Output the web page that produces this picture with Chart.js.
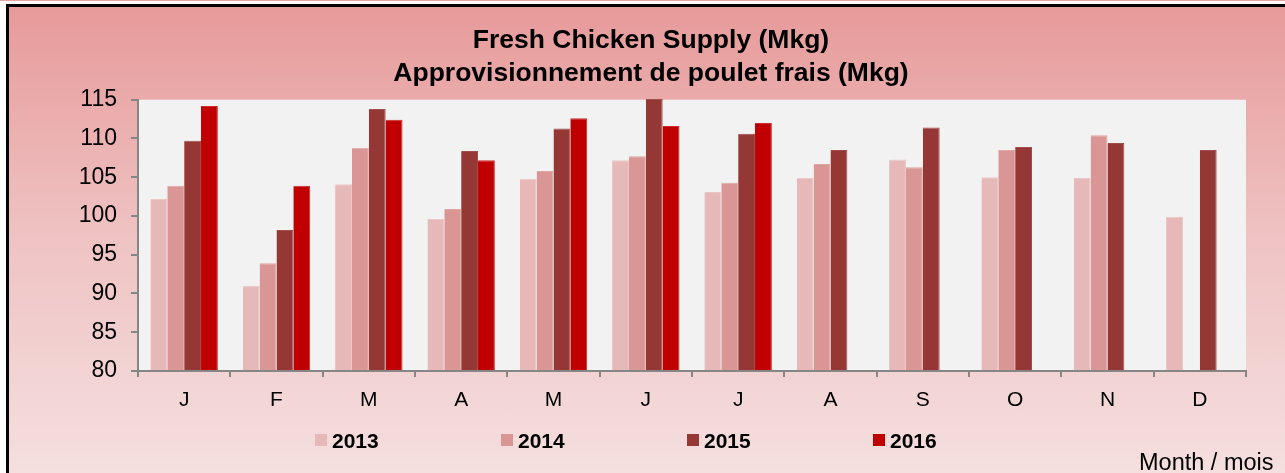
<!DOCTYPE html>
<html>
<head>
<meta charset="utf-8">
<script src="https://cdn.jsdelivr.net/npm/chart.js@4.4.1/dist/chart.umd.min.js"></script>
<style>
  body { margin: 0; background: #fff; width: 1285px; height: 473px; overflow: hidden; position: relative; font-family: "Liberation Sans", Arial, sans-serif; }
  .topline { position: absolute; left: 0; top: 0; width: 1285px; height: 1px; background: #e7a3a3; }
  .frame {
    position: absolute; left: 6px; top: 4px; width: 1276px; height: 466px;
    border-left: 3px solid #000; border-top: 3px solid #000;
    background: linear-gradient(to bottom, #e79a9a 0%, #efc3c3 50%, #f5dfdf 100%);
  }
  #legend .item { position: absolute; top: 429px; height: 24px; line-height: 24px; font-size: 21px; font-weight: bold; color: #000; white-space: nowrap; }
  #legend .box { position: absolute; left: 0; top: 5px; width: 12px; height: 12px; }
  #legend .txt { position: absolute; left: 17px; top: 0; }
  .unit { position: absolute; left: 1139px; top: 451px; font-size: 23.5px; line-height: 23px; color: #000; white-space: nowrap; }
</style>
</head>
<body>
<div class="topline"></div>
<div class="frame">
  <canvas id="chart" width="1276" height="466"></canvas>
</div>
<div id="legend"></div>
<div class="unit">Month / mois</div>
<script>
// months / mois
var months = ["J", "F", "M", "A", "M", "J", "J", "A", "S", "O", "N", "D"];

// series (Mkg)
var years = ["2013", "2014", "2015", "2016"];
var s2013 = [102.2, 91.0, 104.1, 99.6, 104.8, 107.2, 103.1, 104.9, 107.3, 105.0, 104.9, 99.9];
var s2014 = [103.9, 93.9, 108.8, 100.9, 105.8, 107.7, 104.3, 106.7, 106.3, 108.5, 110.4, null];
var s2015 = [109.7, 98.2, 113.8, 108.4, 111.3, 115.1, 110.6, 108.5, 111.4, 108.9, 109.4, 108.5];
var s2016 = [114.2, 103.9, 112.4, 107.2, 112.6, 111.6, 112.0, null, null, null, null, null];

var yTicks = [80, 85, 90, 95, 100, 105, 110, 115];

var colors = ["#e6b9b8", "#d99694", "#953735", "#c00000"];
var edges = ["#ebc6c5", "#e0a6a4", "#a04d4b", "#cc2b2b"];
var series = [s2013, s2014, s2015, s2016];

var plotBg = {
  id: 'plotBg',
  beforeDraw: function (chart) {
    var a = chart.chartArea, ctx = chart.ctx;
    ctx.save();
    ctx.fillStyle = '#f2f2f2';
    ctx.fillRect(a.left, a.top, a.right - a.left, a.bottom - a.top);
    ctx.restore();
  }
};

var datasets = series.map(function (d, i) {
  return {
    label: years[i],
    data: d,
    base: 80,
    backgroundColor: colors[i],
    borderColor: edges[i],
    borderWidth: { top: 1, left: 0, right: 1, bottom: 0 },
    clip: { left: 0, top: false, right: 0, bottom: 0 }
  };
});

new Chart(document.getElementById('chart'), {
  type: 'bar',
  data: { labels: months, datasets: datasets },
  options: {
    responsive: false,
    animation: false,
    layout: { padding: { left: 47, right: 39, top: 0, bottom: 60 } },
    datasets: { bar: { categoryPercentage: 0.73, barPercentage: 1.0 } },
    plugins: {
      legend: { display: false },
      tooltip: { enabled: false },
      title: {
        display: true,
        text: ['Fresh Chicken Supply (Mkg)', 'Approvisionnement de poulet frais (Mkg)'],
        color: '#000',
        font: { family: 'Liberation Sans, Arial, sans-serif', size: 26.5, weight: 'bold', lineHeight: 1.24 },
        padding: { top: 17, bottom: 10 }
      }
    },
    scales: {
      x: {
        grid: { display: true, drawOnChartArea: false, drawTicks: true, tickLength: 6, color: '#868686', lineWidth: 2, offset: true },
        border: { display: true, color: '#868686', width: 2 },
        ticks: { color: '#000', padding: 11, font: { family: 'Liberation Sans, Arial, sans-serif', size: 21 } },
        afterFit: function (axis) { axis.height = 42; }
      },
      y: {
        min: 80,
        max: 115,
        afterBuildTicks: function (axis) { axis.ticks = yTicks.map(function (v) { return { value: v }; }); },
        grid: { display: true, drawOnChartArea: false, drawTicks: true, tickLength: 7, color: '#868686', lineWidth: 2 },
        border: { display: true, color: '#868686', width: 2 },
        ticks: { color: '#000', padding: 14, font: { family: 'Liberation Sans, Arial, sans-serif', size: 23 } },
        afterFit: function (axis) { axis.width = 82; }
      }
    }
  },
  plugins: [plotBg]
});

// legend
var legend = document.getElementById('legend');
years.forEach(function (y, i) {
  var item = document.createElement('div');
  item.className = 'item';
  item.style.left = (315 + i * 186) + 'px';
  var box = document.createElement('span');
  box.className = 'box';
  box.style.background = colors[i];
  var txt = document.createElement('span');
  txt.className = 'txt';
  txt.textContent = y;
  item.appendChild(box);
  item.appendChild(txt);
  legend.appendChild(item);
});
</script>
</body>
</html>
